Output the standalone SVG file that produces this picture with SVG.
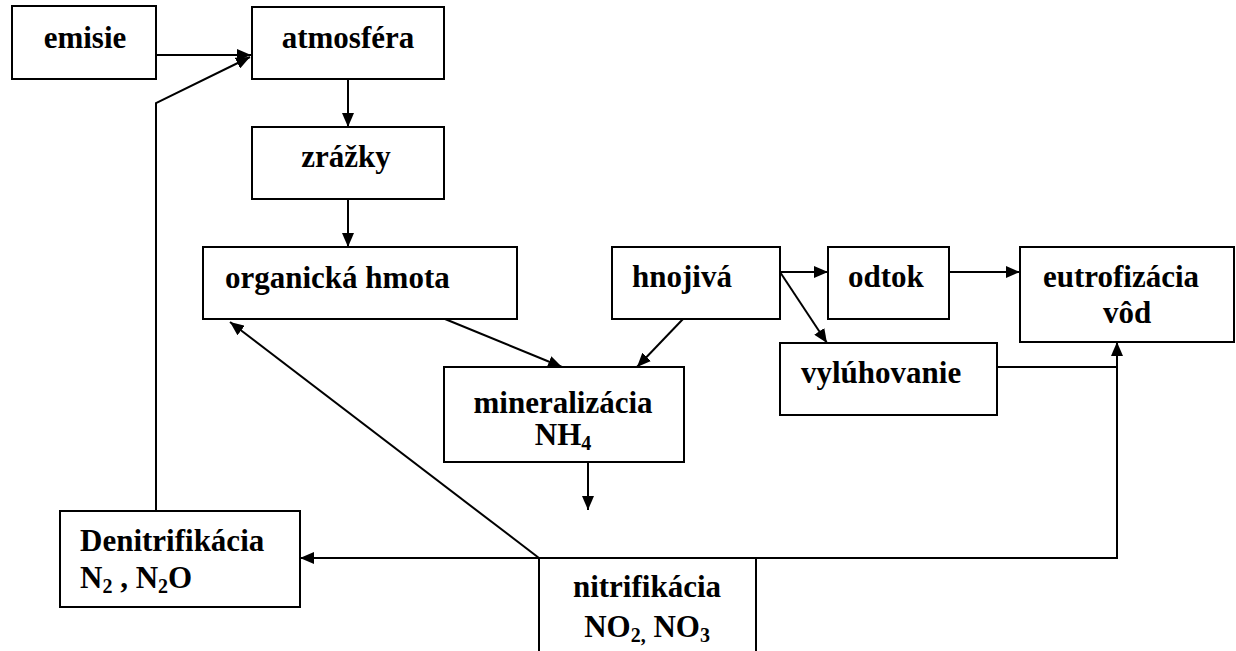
<svg xmlns="http://www.w3.org/2000/svg" width="1236" height="651" viewBox="0 0 1236 651">
<defs>
<style>
.box{fill:#fff;stroke:#000;stroke-width:2}
text{font-family:'Liberation Serif','Times New Roman',serif;font-weight:bold;font-size:31px;fill:#000}
.c{text-anchor:middle}
.sub{font-size:20px}
.ln{fill:none;stroke:#000;stroke-width:2}
</style>
<marker id="ah" markerUnits="userSpaceOnUse" markerWidth="14" markerHeight="12" refX="14" refY="6" orient="auto">
<path d="M0,0 L14,6 L0,12 z" fill="#000"/>
</marker>
</defs>
<rect width="1236" height="651" fill="#fff"/>
<g id="connectors">
<path class="ln" d="M156,55 L251,55" marker-end="url(#ah)"/>
<path class="ln" d="M156,511 L156,103 L250,57" marker-end="url(#ah)"/>
<path class="ln" d="M348,79 L348,127" marker-end="url(#ah)"/>
<path class="ln" d="M348,199 L348,247" marker-end="url(#ah)"/>
<path class="ln" d="M445,319 L562,367" marker-end="url(#ah)"/>
<path class="ln" d="M683,319 L637,367" marker-end="url(#ah)"/>
<path class="ln" d="M780,272 L828,272" marker-end="url(#ah)"/>
<path class="ln" d="M780,272 L827,343" marker-end="url(#ah)"/>
<path class="ln" d="M949,272 L1020,272" marker-end="url(#ah)"/>
<path class="ln" d="M997,367 L1117,367"/>
<path class="ln" d="M756,558 L1117,558 L1117,342" marker-end="url(#ah)"/>
<path class="ln" d="M588,462 L588,510" marker-end="url(#ah)"/>
<path class="ln" d="M539,558 L230,322" marker-end="url(#ah)"/>
<path class="ln" d="M539,558 L300,558" marker-end="url(#ah)"/>
</g>
<g id="emisie"><rect class="box" x="12" y="6" width="144" height="73"/><text font-family="Liberation Serif, serif" class="c" x="85" y="48">emisie</text></g>
<g id="atmosfera"><rect class="box" x="252" y="7" width="192" height="72"/><text font-family="Liberation Serif, serif" class="c" x="348" y="48">atmosféra</text></g>
<g id="zrazky"><rect class="box" x="252" y="127" width="192" height="72"/><text font-family="Liberation Serif, serif" class="c" x="346" y="167">zrážky</text></g>
<g id="organicka"><rect class="box" x="203" y="247" width="314" height="72"/><text font-family="Liberation Serif, serif" x="225" y="288">organická hmota</text></g>
<g id="hnojiva"><rect class="box" x="612" y="247" width="168" height="72"/><text font-family="Liberation Serif, serif" x="632" y="287">hnojivá</text></g>
<g id="odtok"><rect class="box" x="828" y="247" width="121" height="72"/><text font-family="Liberation Serif, serif" x="848" y="287">odtok</text></g>
<g id="eutrofizacia"><rect class="box" x="1020" y="247" width="214" height="95"/><text font-family="Liberation Serif, serif" class="c" x="1121" y="287">eutrofizácia</text><text font-family="Liberation Serif, serif" class="c" x="1127" y="323">vôd</text></g>
<g id="vyluhovanie"><rect class="box" x="780" y="343" width="217" height="72"/><text font-family="Liberation Serif, serif" x="801" y="383">vylúhovanie</text></g>
<g id="mineralizacia"><rect class="box" x="444" y="367" width="240" height="95"/><text font-family="Liberation Serif, serif" class="c" x="563" y="413">mineralizácia</text><text font-family="Liberation Serif, serif" class="c" x="563" y="445">NH<tspan class="sub" dy="5">4</tspan></text></g>
<g id="denitrifikacia"><rect class="box" x="60" y="511" width="240" height="96"/><text font-family="Liberation Serif, serif" x="80" y="551">Denitrifikácia</text><text font-family="Liberation Serif, serif" x="80" y="588">N<tspan class="sub" dy="5">2</tspan><tspan dy="-5"> , N</tspan><tspan class="sub" dy="5">2</tspan><tspan dy="-5">O</tspan></text></g>
<g id="nitrifikacia"><rect class="box" x="539" y="558" width="217" height="110"/><text font-family="Liberation Serif, serif" class="c" x="647" y="597">nitrifikácia</text><text font-family="Liberation Serif, serif" class="c" x="647" y="637">NO<tspan class="sub" dy="5">2,</tspan><tspan dy="-5"> NO</tspan><tspan class="sub" dy="5">3</tspan></text></g>
</svg>
